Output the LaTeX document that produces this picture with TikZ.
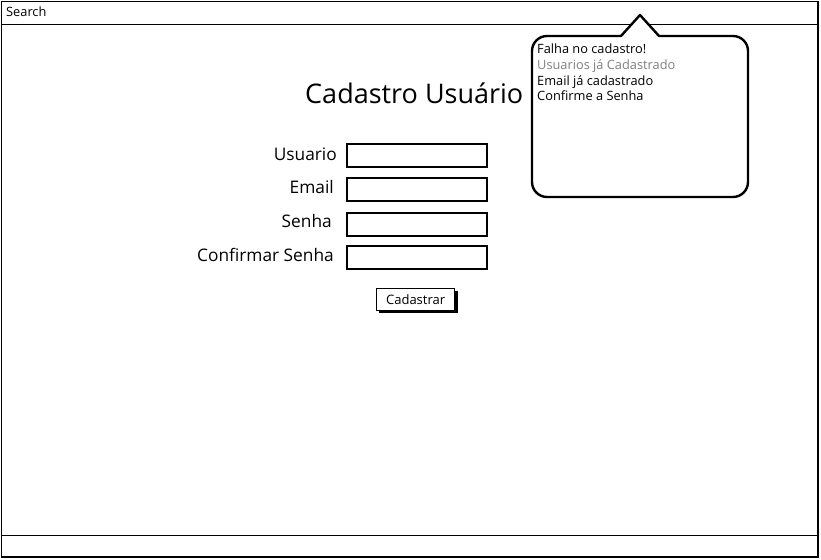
\documentclass[tikz,border=0pt]{standalone}
\usepackage{fontspec}
\setmainfont{Open Sans}
\begin{document}
\begin{tikzpicture}[x=1pt,y=-1pt,
  frame/.style={draw=black,line width=1.8pt},
  field/.style={draw=black,line width=1.9pt,fill=white,minimum width=140pt,minimum height=23pt,anchor=north west,inner sep=0pt},
  lbl/.style={font=\fontsize{17.3}{19}\selectfont,anchor=base east,inner sep=0pt},
  small/.style={font=\fontsize{12.8}{14}\selectfont,anchor=base west,inner sep=0pt},
  btn/.style={draw=black,line width=1.2pt,fill=white,minimum width=78pt,minimum height=22pt,anchor=north west,inner sep=0pt,font=\fontsize{13}{15}\selectfont}
]
\useasboundingbox (0,0) rectangle (821,559);
\fill[white] (0,0) rectangle (821,559);
% window frame
\draw[frame] (1.5,1.5) rectangle (818,557);
\draw[frame] (1.5,24.5) -- (818,24.5);
\draw[frame] (1.5,535.5) -- (818,535.5);
\node[small] (search) at (6,17) {Search};
% title
\node[font=\fontsize{27}{32}\selectfont,anchor=base west,inner sep=0pt] (title) at (305,103) {Cadastro Usuário};
% labels
\node[lbl] (lu) at (337,160) {Usuario};
\node[lbl] (le) at (334,193) {Email};
\node[lbl] (ls) at (332,227) {Senha};
\node[lbl] (lc) at (334,261) {Confirmar Senha};
% fields
\node[field] (fu) at (346,143) {};
\node[field] (fe) at (346,177) {};
\node[field] (fs) at (346,212) {};
\node[field] (fc) at (346,245) {};
% button
\fill[black] (379,291) rectangle (458,313);
\node[btn] (bt) at (376,288) {Cadastrar};
% callout
\draw[black,line width=2.4pt,fill=white,line join=round]
  (547,36) -- (621,36) -- (640,15) -- (659,36) -- (733,36)
  arc[start angle=90,end angle=0,radius=15pt] -- (748,182)
  arc[start angle=0,end angle=-90,radius=15pt] -- (547,197)
  arc[start angle=270,end angle=180,radius=15pt] -- (532,51)
  arc[start angle=180,end angle=90,radius=15pt] -- cycle;
\node[small] (m1) at (537,54) {Falha no cadastro!};
\node[small,text=black!50] (m2) at (537,70) {Usuarios já Cadastrado};
\node[small] (m3) at (537,86) {Email já cadastrado};
\node[small] (m4) at (537,101) {Confirme a Senha};
\end{tikzpicture}
\end{document}
